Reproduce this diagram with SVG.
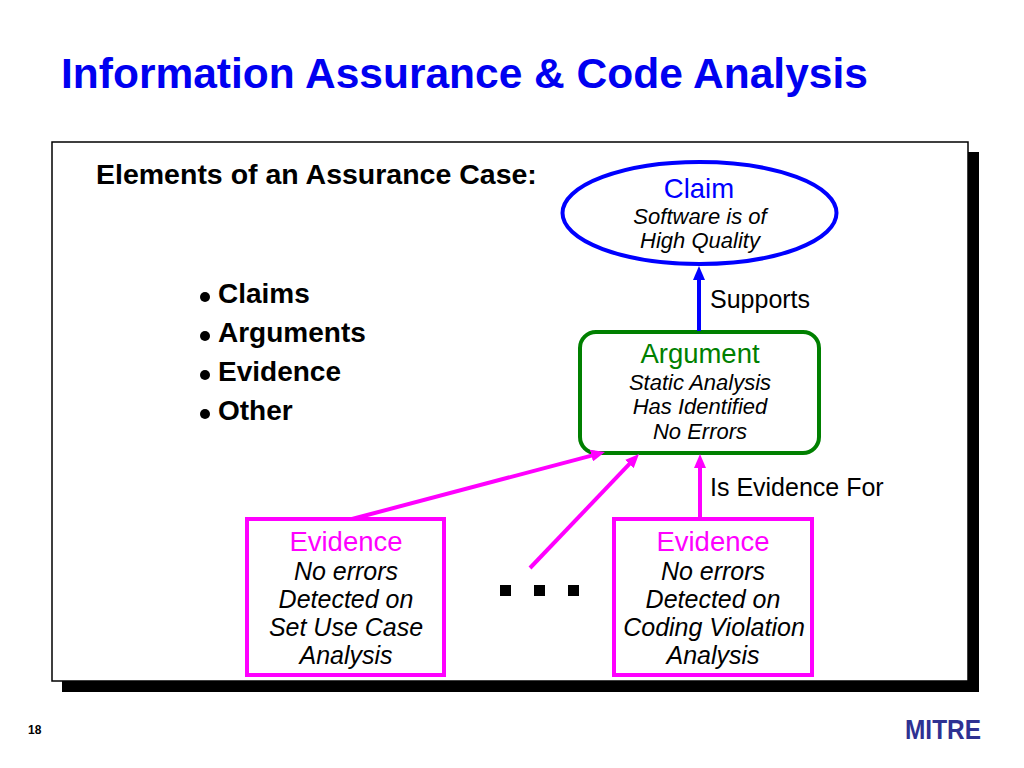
<svg xmlns="http://www.w3.org/2000/svg" width="1024" height="768" viewBox="0 0 1024 768">
<style>
text{font-family:"Liberation Sans",Arial,Helvetica,sans-serif}
.title{font-size:42.5px;font-weight:bold;fill:#0000f0}
.bold{font-weight:bold;fill:#000}
.head{font-size:27.5px;text-anchor:middle}
.sub{font-size:22px;font-style:italic;text-anchor:middle;fill:#000}
.esub{font-size:25px;font-style:italic;text-anchor:middle;fill:#000}
.lbl{font-size:25px;fill:#000}
.blue{stroke:#0000ff}
.mag{stroke:#ff00ff}
</style>
<defs>
<marker id="ab" markerUnits="userSpaceOnUse" markerWidth="14" markerHeight="12" refX="4" refY="6" orient="auto"><path d="M0,0 L14,6 L0,12 z" fill="#0000ff"/></marker>
<marker id="am" markerUnits="userSpaceOnUse" markerWidth="14" markerHeight="12" refX="4" refY="6" orient="auto"><path d="M0,0 L14,6 L0,12 z" fill="#ff00ff"/></marker>
</defs>
<rect width="1024" height="768" fill="#fff"/>
<text class="title" x="61" y="88">Information Assurance &amp; Code Analysis</text>
<g id="frame">
<rect x="62" y="152" width="917" height="540" fill="#000"/>
<rect x="52" y="142" width="916" height="539" fill="#fff" stroke="#000" stroke-width="1.5"/>
</g>
<text class="bold" x="96" y="184" font-size="28.5">Elements of an Assurance Case:</text>
<g id="bullets" class="bold" font-size="28">
<circle cx="205" cy="297" r="5" fill="#000"/><text x="218" y="303">Claims</text>
<circle cx="205" cy="336" r="5" fill="#000"/><text x="218" y="342">Arguments</text>
<circle cx="205" cy="375" r="5" fill="#000"/><text x="218" y="381">Evidence</text>
<circle cx="205" cy="414" r="5" fill="#000"/><text x="218" y="420">Other</text>
</g>
<g id="claim">
<ellipse cx="699.5" cy="213" rx="137" ry="51" fill="#fff" stroke="#0000ff" stroke-width="4"/>
<text class="head" x="699" y="198" fill="#0000ff">Claim</text>
<text class="sub" x="700" y="224">Software is of</text>
<text class="sub" x="700" y="248">High Quality</text>
</g>
<g id="argument">
<rect x="580" y="332" width="239" height="121" rx="16" fill="#fff" stroke="#008000" stroke-width="4"/>
<text class="head" x="700" y="363" fill="#008000">Argument</text>
<text class="sub" x="700" y="390">Static Analysis</text>
<text class="sub" x="700" y="414">Has Identified</text>
<text class="sub" x="700" y="439">No Errors</text>
</g>
<g id="evidence1">
<rect x="247" y="519" width="197" height="156" fill="#fff" stroke="#ff00ff" stroke-width="4"/>
<text class="head" x="346" y="551" fill="#ff00ff">Evidence</text>
<text class="esub" x="346" y="580">No errors</text>
<text class="esub" x="346" y="608">Detected on</text>
<text class="esub" x="346" y="636">Set Use Case</text>
<text class="esub" x="346" y="664">Analysis</text>
</g>
<g id="evidence2">
<rect x="614" y="519" width="198" height="156" fill="#fff" stroke="#ff00ff" stroke-width="4"/>
<text class="head" x="713" y="551" fill="#ff00ff">Evidence</text>
<text class="esub" x="713" y="580">No errors</text>
<text class="esub" x="713" y="608">Detected on</text>
<text class="esub" x="714" y="636">Coding Violation</text>
<text class="esub" x="713" y="664">Analysis</text>
</g>
<g id="ellipsis" fill="#000">
<rect x="500" y="585" width="11" height="11"/>
<rect x="534" y="585" width="11" height="11"/>
<rect x="568" y="585" width="11" height="11"/>
</g>
<g id="connectors" stroke-width="4" fill="none">
<line class="blue" x1="699" y1="331" x2="699" y2="276" marker-end="url(#ab)"/>
<line class="mag" x1="352" y1="519" x2="595.3" y2="454.6" marker-end="url(#am)"/>
<line class="mag" x1="530" y1="568" x2="632.1" y2="461.2" marker-end="url(#am)"/>
<line class="mag" x1="700" y1="519" x2="700" y2="464" marker-end="url(#am)"/>
</g>
<text class="lbl" x="710" y="308">Supports</text>
<text class="lbl" x="710" y="496">Is Evidence For</text>
<text class="bold" x="28" y="734" font-size="12">18</text>
<text x="905" y="739" font-size="28" font-weight="bold" fill="#2e3192" textLength="76" lengthAdjust="spacingAndGlyphs">MITRE</text>
</svg>
